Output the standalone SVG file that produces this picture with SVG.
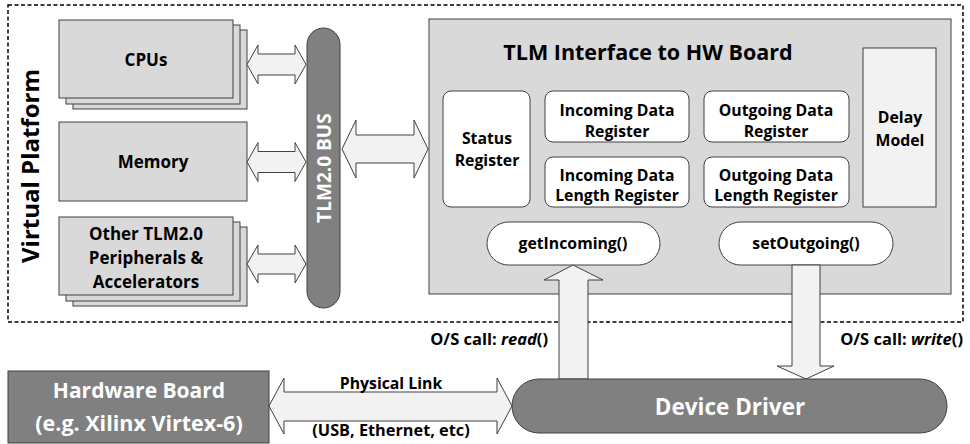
<svg xmlns="http://www.w3.org/2000/svg" width="970" height="444" viewBox="0 0 970 444">
  <style>
    text { font-family: "Open Sans", "Noto Sans", "Liberation Sans", sans-serif; font-weight: bold; fill: #000; }
    .c { text-anchor: middle; }
    .w { fill: #fff; }
    .box { fill: #d9d9d9; stroke: #404040; stroke-width: 1; }
    .reg { fill: #fff; stroke: #404040; stroke-width: 1; }
    .dark { fill: #808080; stroke: #404040; stroke-width: 1; }
    .arrow { fill: #f2f2f2; stroke: #404040; stroke-width: 1; stroke-linejoin: miter; }
    .t17 { font-size: 17px; }
    .t16 { font-size: 15.8px; }
    .call { font-size: 16.5px; text-anchor: end; }
  </style>

  <!-- Virtual platform boundary -->
  <rect x="8" y="5" width="955" height="317" fill="none" stroke="#000" stroke-width="1.5" stroke-dasharray="4 2.5"/>
  <text class="c" font-size="24" transform="translate(39,166) rotate(-90)">Virtual Platform</text>

  <!-- CPUs (stacked) -->
  <g id="cpus">
    <rect class="box" x="73" y="30" width="174" height="79"/>
    <rect class="box" x="66" y="25" width="174" height="79"/>
    <rect class="box" x="59" y="20" width="174" height="78"/>
    <text class="c t17" x="146" y="65.5">CPUs</text>
  </g>

  <!-- Memory -->
  <g id="memory">
    <rect class="box" x="59" y="122" width="188" height="79"/>
    <text class="c t17" x="153" y="167.5">Memory</text>
  </g>

  <!-- Other peripherals (stacked) -->
  <g id="peripherals">
    <rect class="box" x="73" y="227" width="174" height="79"/>
    <rect class="box" x="66" y="222" width="174" height="79"/>
    <rect class="box" x="59" y="217" width="174" height="78"/>
    <text class="c t17" x="146" y="239.5">Other TLM2.0</text>
    <text class="c t17" x="146" y="264">Peripherals &amp;</text>
    <text class="c t17" x="146" y="288">Accelerators</text>
  </g>

  <!-- TLM2.0 bus -->
  <g id="bus">
    <rect class="dark" x="307" y="28" width="33" height="280" rx="16.5"/>
    <text class="c w" font-size="19" transform="translate(331,168) rotate(-90)">TLM2.0 BUS</text>
  </g>

  <!-- TLM interface block -->
  <g id="tlm-interface">
    <rect class="box" x="429" y="19" width="522" height="275"/>
    <text class="c" font-size="21.5" x="648" y="59.5">TLM Interface to HW Board</text>
  </g>

  <g id="status-register">
    <rect class="reg" x="443" y="91" width="87" height="116" rx="8"/>
    <text class="c t16" x="487" y="143.5">Status</text>
    <text class="c t16" x="487" y="166">Register</text>
  </g>

  <g id="incoming-data-register">
    <rect class="reg" x="545" y="91" width="144" height="51" rx="8"/>
    <text class="c t16" x="617" y="116">Incoming Data</text>
    <text class="c t16" x="617" y="136.5">Register</text>
  </g>

  <g id="incoming-length-register">
    <rect class="reg" x="545" y="157" width="144" height="50" rx="8"/>
    <text class="c t16" x="617" y="180.5">Incoming Data</text>
    <text class="c t16" x="617" y="201">Length Register</text>
  </g>

  <g id="outgoing-data-register">
    <rect class="reg" x="704" y="91" width="145" height="51" rx="8"/>
    <text class="c t16" x="776" y="116">Outgoing Data</text>
    <text class="c t16" x="776" y="136.5">Register</text>
  </g>

  <g id="outgoing-length-register">
    <rect class="reg" x="704" y="157" width="145" height="50" rx="8"/>
    <text class="c t16" x="776" y="180.5">Outgoing Data</text>
    <text class="c t16" x="776" y="201">Length Register</text>
  </g>

  <g id="delay-model">
    <rect x="863" y="48" width="73" height="159" fill="#f2f2f2" stroke="#404040" stroke-width="1"/>
    <text class="c t16" x="900" y="122.5">Delay</text>
    <text class="c t16" x="900" y="146">Model</text>
  </g>

  <g id="get-incoming">
    <rect class="reg" x="487" y="222" width="173" height="43" rx="21.5"/>
    <text class="c t16" x="573" y="248.5">getIncoming()</text>
  </g>

  <g id="set-outgoing">
    <rect class="reg" x="719" y="222" width="174" height="43" rx="21.5"/>
    <text class="c t16" x="806" y="248.5">setOutgoing()</text>
  </g>

  <!-- Connectors -->
  <g id="connectors">
    <polygon class="arrow" points="247,64.5 258,45 258,54 295,54 295,45 306,64.5 295,84 295,75 258,75 258,84"/>
    <polygon class="arrow" points="247,162 258,142.5 258,151.5 295,151.5 295,142.5 306,162 295,181.5 295,172.5 258,172.5 258,181.5"/>
    <polygon class="arrow" points="247,264 258,245 258,254 295,254 295,245 306,264 295,283 295,274 258,274 258,283"/>
    <polygon class="arrow" points="342,149 356,120 356,135 414,135 414,120 428,149 414,178 414,163 356,163 356,178"/>
    <polygon class="arrow" points="573,265 603,280 588,280 588,379 559,379 559,280 544,280"/>
    <polygon class="arrow" points="792,265 820,265 820,366 834,366 806,379 777,366 792,366"/>
    <polygon class="arrow" points="269,406 284,378 284,392 497,392 497,378 512,406 497,434 497,421 284,421 284,434"/>
  </g>

  <!-- Link and call labels -->
  <text class="c t16" x="391" y="388.5">Physical Link</text>
  <text class="c" font-size="16.3" x="391" y="436">(USB, Ethernet, etc)</text>
  <text class="call" x="548" y="344.5">O/S call: <tspan font-style="italic">read</tspan>()</text>
  <text class="call" x="963" y="344.5">O/S call: <tspan font-style="italic">write</tspan>()</text>

  <g id="device-driver">
    <rect class="dark" x="512" y="379" width="435" height="54" rx="27"/>
    <text class="c w" font-size="22.5" x="730" y="415">Device Driver</text>
  </g>

  <g id="hardware-board">
    <rect class="dark" x="8" y="371" width="261" height="72"/>
    <text class="c w" font-size="21" x="139" y="398">Hardware Board</text>
    <text class="c w" font-size="21.5" x="139" y="431">(e.g. Xilinx Virtex-6)</text>
  </g>
</svg>
